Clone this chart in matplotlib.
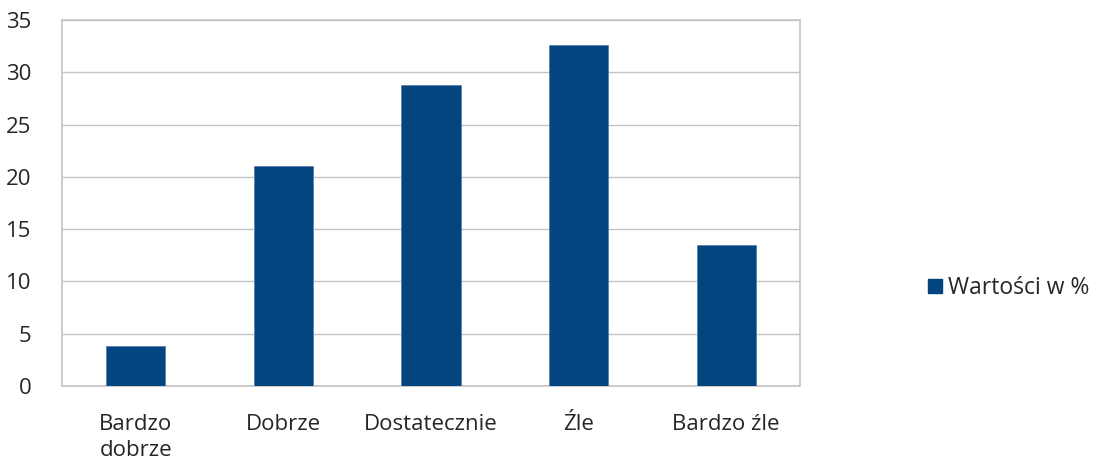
import matplotlib
matplotlib.use("Agg")
import matplotlib.pyplot as plt
from matplotlib.patches import Patch

categories = ["Bardzo\ndobrze", "Dobrze", "Dostatecznie", "Źle", "Bardzo źle"]
values = [3.8, 21.0, 28.8, 32.6, 13.5]
yticks = [0, 5, 10, 15, 20, 25, 30, 35]
series_name = "Wartości w %"

bar_color = "#02457F"
grid_color = "#C4C4C4"
text_color = "#262626"

plt.rcParams['font.family'] = ['Open Sans', 'DejaVu Sans']

fig = plt.figure(figsize=(10.95, 4.61), dpi=100)
ax = fig.add_axes([62/1095, 1-386/461, 738/1095, 366/461])

x = list(range(len(categories)))
ax.bar(x, values, width=0.4, color=bar_color, edgecolor="#5A7FAA", linewidth=0.6, zorder=3)

ax.set_xlim(-0.5, len(categories) - 0.5)
ax.set_ylim(0, 35)
ax.set_yticks(yticks)
ax.set_xticks(x)
ax.set_xticklabels(categories, fontsize=16, color=text_color, linespacing=1.3, va="top")
ax.tick_params(axis="y", labelsize=16, labelcolor=text_color, length=0, pad=22)
ax.tick_params(axis="x", length=0, pad=20)
ax.grid(axis="y", color=grid_color, linewidth=1.0, zorder=0)
for s in ax.spines.values():
    s.set_color(grid_color)
    s.set_linewidth(1.2)

handles = [Patch(facecolor=bar_color, edgecolor=bar_color, label=series_name)]
fig.legend(handles=handles, loc="center left", bbox_to_anchor=(919/1095, 1-288/461),
           frameon=False, fontsize=16.5, handlelength=0.6, handleheight=0.6,
           handletextpad=0.25, labelcolor=text_color, borderaxespad=0)

fig.savefig("out.png", dpi=100)
